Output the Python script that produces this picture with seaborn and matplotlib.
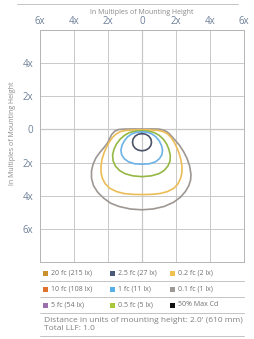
import pandas as pd
import matplotlib
matplotlib.use("Agg")
import matplotlib.pyplot as plt
import seaborn as sns

# isoline vertices (units of mounting height)
gray_x = [0, 0.6, 1.0, 1.25, 1.45, 1.6, 1.75, 1.95, 2.2, 2.45, 2.65, 2.8, 2.88, 2.86, 2.75,
          2.55, 2.25, 1.85, 1.3, 0.65, 0, -0.7, -1.35, -1.85, -2.25, -2.6, -2.85, -2.97,
          -2.97, -2.88, -2.7, -2.45, -2.2, -2.02, -1.9, -1.78, -1.6, -1.35, -1.0, -0.5]
gray_y = [0.02, 0.03, 0.02, -0.04, -0.13, -0.25, -0.42, -0.65, -0.95, -1.35, -1.75, -2.2, -2.7,
          -3.05, -3.4, -3.75, -4.1, -4.4, -4.65, -4.8, -4.85, -4.8, -4.65, -4.45, -4.15, -3.8,
          -3.4, -2.95, -2.5, -2.1, -1.7, -1.35, -1.05, -0.8, -0.55, -0.3, -0.1, 0.0, 0.02, 0.03]

yellow_x = [0, 0.5, 0.95, 1.25, 1.5, 1.7, 1.88, 2.03, 2.17, 2.28, 2.35, 2.35, 2.27, 2.12, 1.88,
            1.5, 1.05, 0.5, 0, -0.5, -1.05, -1.5, -1.9, -2.16, -2.33, -2.41, -2.41, -2.35,
            -2.23, -2.08, -1.92, -1.73, -1.52, -1.27, -0.95, -0.5]
yellow_y = [-0.02, -0.03, -0.06, -0.13, -0.27, -0.48, -0.75, -1.05, -1.4, -1.8, -2.2, -2.6,
            -2.95, -3.28, -3.55, -3.75, -3.87, -3.92, -3.93, -3.92, -3.87, -3.75, -3.55, -3.28,
            -2.95, -2.6, -2.2, -1.8, -1.4, -1.05, -0.75, -0.48, -0.27, -0.13, -0.06, -0.03]

green_x = [0, 0.35, 0.7, 1.0, 1.25, 1.45, 1.58, 1.66, 1.65, 1.53, 1.3, 1.0, 0.55, 0,
           -0.55, -1.0, -1.32, -1.57, -1.7, -1.73, -1.65, -1.5, -1.28, -1.02, -0.72, -0.35]
green_y = [-0.08, -0.1, -0.18, -0.35, -0.58, -0.88, -1.2, -1.55, -1.9, -2.2, -2.48, -2.67,
           -2.8, -2.85, -2.8, -2.67, -2.48, -2.2, -1.9, -1.55, -1.2, -0.88, -0.58, -0.35,
           -0.18, -0.1]

blue_x = [0, 0.3, 0.58, 0.82, 1.02, 1.15, 1.21, 1.17, 1.03, 0.8, 0.45, 0,
          -0.45, -0.8, -1.05, -1.2, -1.24, -1.18, -1.05, -0.85, -0.6, -0.3]
blue_y = [-0.15, -0.17, -0.27, -0.45, -0.7, -0.98, -1.25, -1.52, -1.76, -1.95, -2.07, -2.1,
          -2.07, -1.95, -1.76, -1.52, -1.25, -0.98, -0.7, -0.45, -0.27, -0.17]

dark_x = [0, 0.22, 0.4, 0.52, 0.56, 0.52, 0.4, 0.22, 0, -0.22, -0.4, -0.52, -0.56, -0.52, -0.4, -0.22]
dark_y = [-0.25, -0.29, -0.4, -0.57, -0.77, -0.97, -1.14, -1.25, -1.29, -1.25, -1.14, -0.97,
          -0.77, -0.57, -0.4, -0.29]

levels = ["0.1 fc", "0.2 fc", "0.5 fc", "1 fc", "2.5 fc"]
line_colors = ["#9e9792", "#ecbd57", "#95b845", "#6cb2e6", "#4b5468"]

tick_vals = [-6, -4, -2, 0, 2, 4, 6]
x_tick_labels = ["6x", "4x", "2x", "0", "2x", "4x", "6x"]
y_tick_vals = [-8, -6, -4, -2, 0, 2, 4, 6]
y_tick_labels = ["", "6x", "4x", "2x", "0", "2x", "4x", ""]

legend_labels = ["20 fc (215 lx)", "2.5 fc (27 lx)", "0.2 fc (2 lx)",
                 "10 fc (108 lx)", "1 fc (11 lx)", "0.1 fc (1 lx)",
                 "5 fc (54 lx)", "0.5 fc (5 lx)", "50% Max Cd"]
legend_colors = ["#c8912e", "#4a5a78", "#f0c050",
                 "#e0702e", "#58b0e8", "#a09a96",
                 "#9b6fab", "#a8c83a", "#111111"]

# long-form table, each ring closed back to its first vertex
rows = []
for name, xs, ys in zip(levels, [gray_x, yellow_x, green_x, blue_x, dark_x],
                        [gray_y, yellow_y, green_y, blue_y, dark_y]):
    for i, (a, b) in enumerate(list(zip(xs, ys)) + [(xs[0], ys[0])]):
        rows.append({"level": name, "x": a, "y": b, "i": i})
df = pd.DataFrame(rows)

sns.set_theme(style="white")
plt.rcParams["font.family"] = ["Open Sans", "DejaVu Sans"]

fig = plt.figure(figsize=(2.54, 3.39), dpi=100)

# background axes in pixel units for the decorations around the plot
bg = fig.add_axes([0, 0, 1, 1], zorder=0)
bg.set_xlim(0, 254)
bg.set_ylim(339, 0)
bg.axis("off")

ax = fig.add_axes([40 / 254, 77 / 339, 204 / 254, 232 / 339], zorder=1)
sns.lineplot(data=df, x="x", y="y", hue="level", hue_order=levels, palette=line_colors,
             sort=False, estimator=None, units="level", linewidth=1.2, legend=False, ax=ax,
             solid_joinstyle="round")

ax.set_xlim(-6, 6)
ax.set_ylim(-8, 6)
ax.set_xticks(tick_vals)
ax.set_xticklabels(x_tick_labels)
ax.set_yticks(y_tick_vals)
ax.set_yticklabels(y_tick_labels)
ax.xaxis.tick_top()
ax.tick_params(length=0, labelsize=7, labelcolor="#6e8199")
ax.tick_params(axis="x", pad=2)
ax.tick_params(axis="y", pad=5)
ax.set_xlabel("")
ax.set_ylabel("")
ax.grid(True, color="#c9c9c9", linewidth=0.7)
ax.axvline(0, color="#8e8e8e", linewidth=0.8, zorder=0.5)
ax.axhline(0, color="#8e8e8e", linewidth=0.8, zorder=0.5)
for s in ax.spines.values():
    s.set_color("#b5b5b5")
    s.set_linewidth(0.7)

# header
bg.plot([17, 238], [4, 4], color="#c4c4c4", linewidth=0.7)
bg.text(142, 12, "In Multiples of Mounting Height", ha="center", va="center",
        fontsize=5, color="#8a8a8a")
bg.text(13, 133, "In Multiples of Mounting Height", ha="center", va="center",
        rotation=90, fontsize=5, color="#8a8a8a")

# legend table
col_x = [45, 112, 172]
row_y = [273, 289, 305]
for k, (lab, col) in enumerate(zip(legend_labels, legend_colors)):
    cx = col_x[k % 3]
    cy = row_y[k // 3]
    bg.add_patch(plt.Rectangle((cx - 2.5, cy - 2.5), 5, 5, color=col, linewidth=0))
    bg.text(cx + 6, cy, lab, ha="left", va="center", fontsize=5, color="#707070")
for yy in [281, 297, 313, 336]:
    bg.plot([40, 244], [yy, yy], color="#c4c4c4", linewidth=0.7)
bg.text(44, 320, "Distance in units of mounting height: 2.0' (610 mm)", ha="left", va="center",
        fontsize=6, color="#808080")
bg.text(44, 329, "Total LLF: 1.0", ha="left", va="center", fontsize=6, color="#808080")

fig.savefig("out.png", dpi=100)
